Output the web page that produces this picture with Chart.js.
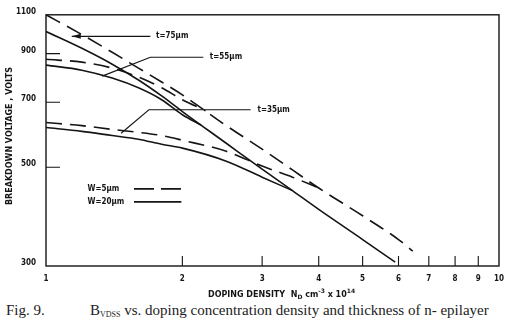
<!DOCTYPE html>
<html lang="en">
<head>
<meta charset="UTF-8">
<title>BVDSS vs doping density</title>
<script src="https://cdn.jsdelivr.net/npm/chart.js"></script>
<style>
  body { margin: 0; background: #fff; }
  #wrap { position: relative; width: 512px; height: 324px; }
  #caption { position: absolute; left: 0; top: 302px; width: 512px; height: 20px; font-family: "Liberation Serif", serif; font-size: 15px; line-height: 16px; color: #222; white-space: nowrap; }
  #caption span { position: absolute; top: 0; }
  #caption sub { font-size: 8px; vertical-align: -2px; line-height: 0; }
</style>
</head>
<body>
<div id="wrap">
  <canvas id="grafico" width="512" height="300"></canvas>
  <div id="caption"><span style="left:6px">Fig. 9.</span><span style="left:90px">B<sub>VDSS</sub> vs. doping concentration density and thickness of n- epilayer</span></div>
</div>
<script>
const xTicks = [1, 2, 3, 4, 5, 6, 7, 8, 9, 10];
const yTicks = [300, 500, 700, 900, 1100];

// W = 5um (dashed) and W = 20um (solid), one pair per epilayer thickness
const nW5t75 = [1, 1.2, 1.4, 1.6, 1.8, 2, 2.5, 3, 3.5, 4, 5, 6, 6.45];
const bvW5t75 = [1100, 993, 906, 835, 777, 727, 620, 549, 493, 449, 389, 344, 324];
const nW20t75 = [1, 1.2, 1.4, 1.6, 1.8, 2, 2.5, 3, 3.5, 4, 5, 5.9];
const bvW20t75 = [1009, 925, 852, 785, 723, 667, 566, 495, 443, 402, 344, 306];
const nW5t55 = [1, 1.2, 1.4, 1.6, 1.8, 2, 2.25];
const bvW5t55 = [874, 861, 835, 797, 754, 709, 670];
const nW20t55 = [1, 1.2, 1.4, 1.6, 1.8, 2, 2.2];
const bvW20t55 = [848, 826, 793, 754, 709, 656, 622];
const nW5t35 = [1, 1.2, 1.4, 1.6, 1.8, 2, 2.5, 3, 3.5, 4];
const bvW5t35 = [630, 620, 608, 599, 589, 575, 543, 503, 475, 449];
const nW20t35 = [1, 1.2, 1.4, 1.6, 1.8, 2, 2.5, 3, 3.5];
const bvW20t35 = [614, 602, 589, 578, 563, 552, 516, 475, 443];

const thicknessLabels = ['t=75μm', 't=55μm', 't=35μm'];
const leaderPaths = [
  [[1.14, 984], [1.70, 984]],
  [[1.33, 801], [1.70, 883], [2.225, 883]],
  [[1.465, 596], [1.687, 673], [2.83, 673]]
];
const labelPos = [[1.75, 984], [2.30, 883], [2.93, 673]];
const legendNames = ['W=5μm', 'W=20μm'];
const yTitle = 'BREAKDOWN VOLTAGE , VOLTS';

const ink = '#151515';
const dash = [16, 8];
const smallFont = "bold 8px 'DejaVu Sans Condensed', 'DejaVu Sans'";

function pts(xs, ys) {
  return xs.map((x, i) => ({ x: x, y: ys[i] }));
}

function curve(xs, ys, dashed) {
  return {
    data: pts(xs, ys),
    borderColor: ink,
    borderWidth: 1.6,
    borderDash: dashed ? dash : [],
    pointRadius: 0,
    showLine: true,
    fill: false,
    cubicInterpolationMode: 'monotone'
  };
}

const extras = {
  id: 'extras',
  afterDraw(chart) {
    const ctx = chart.ctx;
    const a = chart.chartArea;
    const sx = chart.scales.x, sy = chart.scales.y;
    ctx.save();
    ctx.strokeStyle = ink;
    ctx.fillStyle = ink;

    // frame
    ctx.lineWidth = 1.4;
    ctx.setLineDash([]);
    ctx.strokeRect(a.left, a.top, a.right - a.left, a.bottom - a.top);

    // inner tick marks
    ctx.lineWidth = 1.1;
    ctx.beginPath();
    xTicks.slice(1, -1).forEach(v => {
      const px = sx.getPixelForValue(v);
      ctx.moveTo(px, a.bottom);
      ctx.lineTo(px, a.bottom - 10);
    });
    yTicks.slice(1, -1).forEach(v => {
      const py = sy.getPixelForValue(v);
      ctx.moveTo(a.left, py);
      ctx.lineTo(a.left + 14, py);
    });
    ctx.stroke();

    // leader lines and thickness labels
    ctx.lineWidth = 1.1;
    leaderPaths.forEach(path => {
      ctx.beginPath();
      path.forEach((p, i) => {
        const px = sx.getPixelForValue(p[0]), py = sy.getPixelForValue(p[1]);
        if (i === 0) ctx.moveTo(px, py); else ctx.lineTo(px, py);
      });
      ctx.stroke();
    });
    const ax = sx.getPixelForValue(leaderPaths[0][0][0]);
    const ay = sy.getPixelForValue(leaderPaths[0][0][1]);
    ctx.beginPath();
    ctx.moveTo(ax, ay);
    ctx.lineTo(ax + 9, ay - 2.5);
    ctx.lineTo(ax + 9, ay + 2.5);
    ctx.closePath();
    ctx.fill();

    ctx.font = smallFont;
    ctx.textBaseline = 'middle';
    ctx.textAlign = 'left';
    thicknessLabels.forEach((t, i) => {
      ctx.fillText(t, sx.getPixelForValue(labelPos[i][0]), sy.getPixelForValue(labelPos[i][1]));
    });

    // legend
    const lx = sx.getPixelForValue(1.235);
    const l0 = sx.getPixelForValue(1.564), l1 = sx.getPixelForValue(1.99);
    [447, 418].forEach((v, i) => {
      const py = sy.getPixelForValue(v);
      ctx.fillText(legendNames[i], lx, py);
      ctx.lineWidth = 1.6;
      ctx.setLineDash(i === 0 ? [20, 7] : []);
      ctx.beginPath();
      ctx.moveTo(l0, py);
      ctx.lineTo(l1, py);
      ctx.stroke();
    });
    ctx.setLineDash([]);

    // y axis title
    ctx.save();
    ctx.translate(10, 136);
    ctx.rotate(-Math.PI / 2);
    ctx.textAlign = 'center';
    ctx.font = "bold 8px 'DejaVu Sans'";
    ctx.fillText(yTitle, 0, 0);
    ctx.restore();

    // x axis title with sub/superscripts
    let x = a.left + 162;
    const base = 297;
    const parts = [
      ['DOPING DENSITY  N', 0, 8],
      ['D', 2, 6],
      [' cm', 0, 8],
      ['-3', -4, 6],
      [' x 10', 0, 8],
      ['14', -4, 6]
    ];
    ctx.textBaseline = 'alphabetic';
    parts.forEach(p => {
      ctx.font = "bold " + p[2] + "px 'DejaVu Sans'";
      ctx.fillText(p[0], x, base + p[1]);
      x += ctx.measureText(p[0]).width;
    });
    ctx.restore();
  }
};

new Chart(document.getElementById('grafico').getContext('2d'), {
  type: 'scatter',
  data: {
    datasets: [
      curve(nW5t75, bvW5t75, true),
      curve(nW20t75, bvW20t75, false),
      curve(nW5t55, bvW5t55, true),
      curve(nW20t55, bvW20t55, false),
      curve(nW5t35, bvW5t35, true),
      curve(nW20t35, bvW20t35, false)
    ]
  },
  options: {
    responsive: false,
    animation: false,
    layout: { padding: { top: 12, right: 8, left: 0, bottom: 0 } },
    plugins: { legend: { display: false }, tooltip: { enabled: false } },
    scales: {
      x: {
        type: 'logarithmic',
        min: 1,
        max: 10,
        grid: { display: false, drawTicks: false },
        border: { display: false },
        afterBuildTicks: s => { s.ticks = xTicks.map(v => ({ value: v })); },
        afterFit: s => { s.height = 34; },
        ticks: {
          color: ink,
          padding: 8,
          maxRotation: 0,
          autoSkip: false,
          font: { family: "'DejaVu Sans Condensed', 'DejaVu Sans'", size: 8, weight: 'bold' },
          callback: v => String(v)
        }
      },
      y: {
        type: 'logarithmic',
        min: 300,
        max: 1100,
        grid: { display: false, drawTicks: false },
        border: { display: false },
        afterBuildTicks: s => { s.ticks = yTicks.map(v => ({ value: v })); },
        afterFit: s => { s.width = 46; },
        ticks: {
          color: ink,
          padding: 10,
          labelOffset: -3,
          autoSkip: false,
          font: { family: "'DejaVu Sans Condensed', 'DejaVu Sans'", size: 8, weight: 'bold' },
          callback: v => String(v)
        }
      }
    }
  },
  plugins: [extras]
});
</script>
</body>
</html>
